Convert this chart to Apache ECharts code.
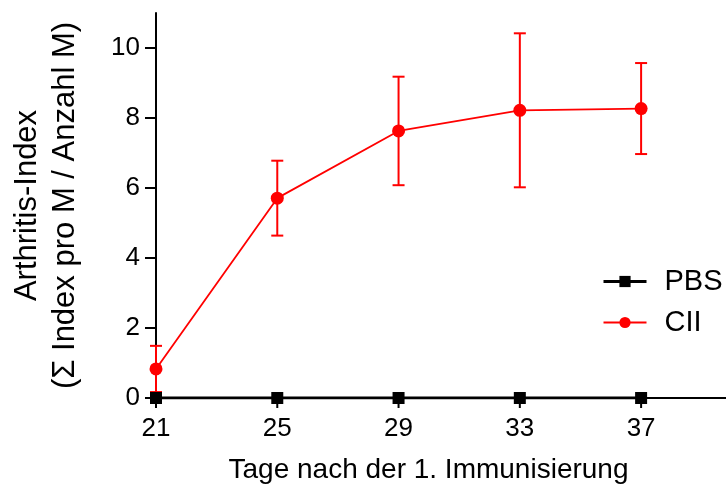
<!DOCTYPE html>
<html><head><meta charset="utf-8">
<script src="https://cdn.jsdelivr.net/npm/echarts@6/dist/echarts.min.js"></script>
<style>html,body{margin:0;padding:0;background:#fff}#c{width:726px;height:490px}</style>
</head><body><div id="c"></div>
<script>
const days = [21, 25, 29, 33, 37];
const pbsMean = [0, 0, 0, 0, 0];
const ciiMean = [0.83, 5.71, 7.63, 8.22, 8.27];
const ciiErr = [0.66, 1.07, 1.55, 2.2, 1.3];
const yTicks = [0, 2, 4, 6, 8, 10];
const xTicks = [21, 25, 29, 33, 37];

const font = "Liberation Sans, Arial, sans-serif";
const chart = echarts.init(document.getElementById('c'), null, {renderer: 'canvas'});
const errData = days.map((d, i) => [d, ciiMean[i] - ciiErr[i], ciiMean[i] + ciiErr[i]]);
const yTickData = yTicks.map(v => [21, v, 0]);
const xTickData = xTicks.map(v => [v, 0, 1]);
chart.setOption({
  animation: false,
  backgroundColor: '#fff',
  grid: {left: 155, top: 13, right: 0, bottom: 92},
  xAxis: {
    type: 'value', min: 21, max: 39.8,
    axisLine: {show: true, lineStyle: {color: '#000', width: 2}},
    axisTick: {show: false},
    axisLabel: {color: '#000', fontSize: 26, fontFamily: font, margin: 18, customValues: xTicks},
    splitLine: {show: false},
    name: 'Tage nach der 1. Immunisierung', nameLocation: 'middle', nameGap: 58,
    nameTextStyle: {color: '#000', fontSize: 28, fontFamily: font, padding: [0, 25, 0, 0]}
  },
  yAxis: {
    type: 'value', min: 0, max: 11,
    axisLine: {show: true, lineStyle: {color: '#000', width: 2}},
    axisTick: {show: false},
    axisLabel: {color: '#000', fontSize: 26, fontFamily: font, margin: 16, customValues: yTicks},
    splitLine: {show: false},
    name: 'Arthritis-Index\n(Σ Index pro M / Anzahl M)', nameLocation: 'middle', nameGap: 72,
    nameTextStyle: {color: '#000', fontSize: 31, fontFamily: font, lineHeight: 38}
  },
  legend: {
    left: 597, top: 262, orient: 'vertical', itemGap: 12, itemWidth: 43, itemHeight: 14,
    textStyle: {color: '#000', fontSize: 29, fontFamily: font, padding: [0, 0, 0, 13]},
    data: [
      {name: 'PBS', lineStyle: {width: 3}},
      {name: 'CII'}
    ]
  },
  series: [
    {
      type: 'custom', name: 'ticks', z: 3, clip: false, silent: true,
      data: yTickData.concat(xTickData),
      renderItem: function (params, api) {
        const p = api.coord([api.value(0), api.value(1)]);
        const vertical = api.value(2) === 1;
        const st = {stroke: '#000', lineWidth: 2};
        const shape = vertical
          ? {x1: p[0], y1: p[1], x2: p[0], y2: p[1] + 10}
          : {x1: p[0] - 11, y1: p[1], x2: p[0], y2: p[1]};
        return {type: 'group', children: [{type: 'line', shape: shape, style: st}]};
      }
    },
    {
      type: 'custom', name: 'err', z: 3, clip: false,
      data: errData,
      renderItem: function (params, api) {
        const x = api.coord([api.value(0), api.value(1)]);
        const top = api.coord([api.value(0), api.value(2)]);
        const hw = 6;
        const st = {stroke: '#ff0000', lineWidth: 2};
        return {type: 'group', children: [
          {type: 'line', shape: {x1: x[0], y1: x[1], x2: top[0], y2: top[1]}, style: st},
          {type: 'line', shape: {x1: top[0] - hw, y1: top[1], x2: top[0] + hw, y2: top[1]}, style: st},
          {type: 'line', shape: {x1: x[0] - hw, y1: x[1], x2: x[0] + hw, y2: x[1]}, style: st}
        ]};
      }
    },
    {
      type: 'line', name: 'CII', z: 4,
      data: days.map((d, i) => [d, ciiMean[i]]),
      symbol: 'circle', symbolSize: 13,
      lineStyle: {color: '#ff0000', width: 1.8},
      itemStyle: {color: '#ff0000'}
    },
    {
      type: 'line', name: 'PBS', z: 5,
      data: days.map((d, i) => [d, pbsMean[i]]),
      symbol: 'rect', symbolSize: 12,
      lineStyle: {color: '#000', width: 3},
      itemStyle: {color: '#000'}
    }
  ]
});
</script></body></html>
